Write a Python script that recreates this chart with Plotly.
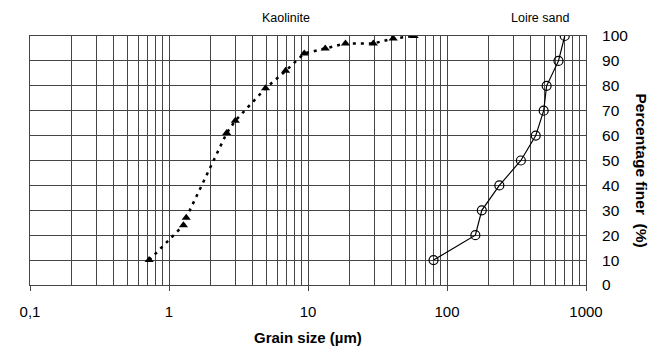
import plotly.graph_objects as go

# Kaolinite grain size distribution
kaolinite_size = [0.72, 1.27, 1.33, 2.6, 3.0, 4.95, 6.9, 9.4, 13.3, 18.6, 29.5, 41, 58]
kaolinite_pct = [10, 24, 27, 61, 66, 79, 86, 93, 95, 97, 97, 99, 100]

# Loire sand grain size distribution
sand_size = [80, 160, 178, 238, 340, 435, 496, 521, 634, 703]
sand_pct = [10, 20, 30, 40, 50, 60, 70, 80, 90, 100]

# axis ticks
x_decades = [0.1, 1, 10, 100, 1000]
x_labels = ["0,1", "1", "10", "100", "1000"]
y_ticks = [0, 10, 20, 30, 40, 50, 60, 70, 80, 90, 100]

# minor grid positions on log axis (2..9 per decade)
minor_vals = []
for d in x_decades[:-1]:
    for m in range(2, 10):
        minor_vals.append(d * m)

FONT = "Liberation Sans, Arial, sans-serif"
GRID = "#454545"

fig = go.Figure()
fig.add_trace(go.Scatter(
    x=kaolinite_size, y=kaolinite_pct, mode="lines+markers",
    line=dict(color="black", width=2.5, dash="3px,5px"),
    marker=dict(symbol="triangle-up", size=8, color="black"),
    showlegend=False,
))
fig.add_trace(go.Scatter(
    x=sand_size, y=sand_pct, mode="lines+markers",
    line=dict(color="black", width=1.2),
    marker=dict(symbol="circle-open", size=9, color="black", line=dict(width=1.2)),
    showlegend=False,
))

fig.update_layout(
    width=655, height=338,
    margin=dict(l=17, r=77, t=28, b=61),
    paper_bgcolor="white", plot_bgcolor="white",
    font=dict(family=FONT, size=14, color="black"),
    xaxis=dict(
        type="log", range=[-1, 3],
        tickvals=x_decades, ticktext=x_labels,
        showgrid=True, gridcolor=GRID, gridwidth=1,
        minor=dict(tickvals=minor_vals, showgrid=True, gridcolor=GRID, gridwidth=1, ticks=""),
        showline=True, linecolor=GRID, linewidth=1, mirror=True,
        ticks="outside", ticklen=5, tickcolor=GRID, ticklabelstandoff=8,
        tickfont=dict(size=15, family=FONT),
        zeroline=False,
    ),
    yaxis=dict(
        range=[0, 100], tickvals=y_ticks, side="right",
        showgrid=True, gridcolor=GRID, gridwidth=1,
        showline=True, linecolor=GRID, linewidth=1, mirror=True,
        ticks="", ticklabelstandoff=12,
        tickfont=dict(size=15.5, family=FONT),
        zeroline=False,
    ),
    annotations=[
        dict(text="<b>Grain size (µm)</b>", xref="paper", yref="paper", x=0.5, y=0,
             yshift=-52, showarrow=False, font=dict(size=15, family=FONT),
             xanchor="center", yanchor="middle"),
        dict(text="<b>Percentage finer  (%)</b>", xref="paper", yref="paper", x=1, y=0.46,
             xshift=56, showarrow=False, textangle=90, font=dict(size=15.5, family=FONT),
             xanchor="center", yanchor="middle"),
        dict(text="Kaolinite", xref="paper", yref="paper", x=0.4607, y=1, yshift=18,
             showarrow=False, font=dict(size=12.5, family=FONT), xanchor="center", yanchor="middle"),
        dict(text="Loire sand", xref="paper", yref="paper", x=0.918, y=1, yshift=18,
             showarrow=False, font=dict(size=12.5, family=FONT), xanchor="center", yanchor="middle"),
    ],
)

fig.write_html("out.html")
